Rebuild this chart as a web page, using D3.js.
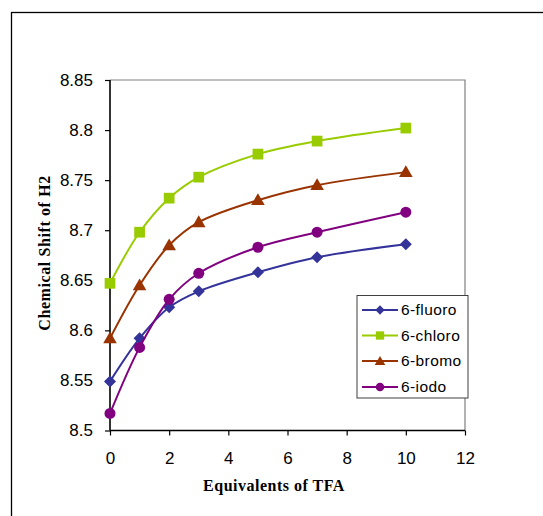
<!DOCTYPE html>
<html>
<head>
<meta charset="utf-8">
<script src="https://cdn.jsdelivr.net/npm/d3@7"></script>
<style>
  html, body { margin: 0; padding: 0; background: #fff; }
  svg { display: block; }
</style>
</head>
<body>
<svg id="chart" width="543" height="516"></svg>
<script>
// TFA titration: chemical shift of H2 for the 6-halo series
const equivalents = [0, 1, 2, 3, 5, 7, 10];
const seriesNames = ["6-fluoro", "6-chloro", "6-bromo", "6-iodo"];
const fluoro = [8.549, 8.592, 8.623, 8.639, 8.658, 8.673, 8.686];
const chloro = [8.647, 8.698, 8.732, 8.753, 8.776, 8.789, 8.802];
const bromo  = [8.592, 8.645, 8.685, 8.708, 8.730, 8.745, 8.758];
const iodo   = [8.517, 8.583, 8.631, 8.657, 8.683, 8.698, 8.718];
const xTicks = [0, 2, 4, 6, 8, 10, 12];
const yTicks = [8.5, 8.55, 8.6, 8.65, 8.7, 8.75, 8.8, 8.85];
const yTickLabels = ["8.5", "8.55", "8.6", "8.65", "8.7", "8.75", "8.8", "8.85"];

const colors = ["#333399", "#99CC00", "#993300", "#800080"];
// marker shapes: diamond is a square turned 45 degrees
const markers = ["diamond", "square", "triangle", "circle"];
const markerSizes = [72, 115, 80, 95];
const symbolTypes = { diamond: d3.symbolSquare, square: d3.symbolSquare, triangle: d3.symbolTriangle, circle: d3.symbolCircle };

const series = seriesNames.map((name, i) => ({
  name,
  color: colors[i],
  marker: markers[i],
  size: markerSizes[i],
  values: [fluoro, chloro, bromo, iodo][i].map((v, j) => ({ x: equivalents[j], y: v }))
}));

function markerTransform(s, cx, cy) {
  const dy = s.marker === "triangle" ? 1 : 0;
  const rot = s.marker === "diamond" ? " rotate(45)" : "";
  return `translate(${cx},${cy + dy})${rot}`;
}

const svg = d3.select("#chart");
const plot = { left: 110, top: 80, right: 465, bottom: 430.5 };

// Outer chart frame (right and bottom edges fall outside the view)
svg.append("rect")
  .attr("x", 11.5).attr("y", 12.5)
  .attr("width", 600).attr("height", 600)
  .attr("fill", "none").attr("stroke", "#000").attr("stroke-width", 1.3);

const x = d3.scaleLinear().domain([0, 12]).range([plot.left, plot.right]);
const y = d3.scaleLinear().domain([8.5, 8.85]).range([plot.bottom, plot.top]);

// Plot area border: grey top and right
svg.append("path")
  .attr("d", `M${plot.left},${plot.top}H${plot.right}V${plot.bottom}`)
  .attr("fill", "none").attr("stroke", "#808080").attr("stroke-width", 1.2);

// Axes
const xAxis = d3.axisBottom(x).tickValues(xTicks).tickSize(5).tickPadding(16).tickFormat(d3.format("d"));
const yAxis = d3.axisLeft(y).tickValues(yTicks).tickSize(5).tickPadding(12)
  .tickFormat((d, i) => yTickLabels[i]);

const gx = svg.append("g").attr("transform", `translate(0,${plot.bottom})`).call(xAxis);
const gy = svg.append("g").attr("transform", `translate(${plot.left},0)`).call(yAxis);

[gx, gy].forEach(g => {
  g.select(".domain").attr("stroke", "#000").attr("stroke-width", 1.6);
  g.selectAll(".tick line").attr("stroke", "#000").attr("stroke-width", 1.2);
  g.selectAll(".tick text")
    .attr("fill", "#000")
    .style("font-family", "'Liberation Sans', Arial, sans-serif")
    .style("font-size", "17px");
});
gx.select(".domain").attr("d", `M${plot.left},0H${plot.right}`);
gy.select(".domain").attr("d", `M0,${plot.bottom}V${plot.top}`);
gx.selectAll(".tick text").attr("dy", "0.71em");

// Axis titles
svg.append("text")
  .attr("x", 274).attr("y", 491)
  .attr("text-anchor", "middle")
  .style("font-family", "'Liberation Serif', 'Times New Roman', serif")
  .style("font-weight", "bold")
  .style("font-size", "16px")
  .style("letter-spacing", "0.5px")
  .text("Equivalents of TFA");

svg.append("text")
  .attr("transform", "translate(50,253) rotate(-90)")
  .attr("text-anchor", "middle")
  .style("font-family", "'Liberation Serif', 'Times New Roman', serif")
  .style("font-weight", "bold")
  .style("font-size", "16px")
  .style("letter-spacing", "0.6px")
  .text("Chemical Shift of H2");

// Smoothed series lines and markers
const line = d3.line()
  .x(d => x(d.x)).y(d => y(d.y))
  .curve(d3.curveCatmullRom.alpha(0.5));

const gSeries = svg.selectAll(".series").data(series).enter().append("g").attr("class", "series");
gSeries.append("path")
  .attr("d", d => line(d.values))
  .attr("fill", "none")
  .attr("stroke", d => d.color)
  .attr("stroke-width", 2);

gSeries.each(function (s) {
  d3.select(this).selectAll("path.pt").data(s.values).enter().append("path")
    .attr("class", "pt")
    .attr("transform", d => markerTransform(s, x(d.x), y(d.y)))
    .attr("d", d3.symbol().type(symbolTypes[s.marker]).size(s.size))
    .attr("fill", s.color);
});

// Legend
const legend = svg.append("g");
legend.append("rect")
  .attr("x", 357).attr("y", 295.5).attr("width", 111).attr("height", 102.5)
  .attr("fill", "#fff").attr("stroke", "#404040").attr("stroke-width", 1);

const rowY = [310, 335.5, 361, 387];
const items = legend.selectAll(".item").data(series).enter().append("g")
  .attr("transform", (d, i) => `translate(0,${rowY[i]})`);
items.append("line")
  .attr("x1", 362).attr("x2", 398).attr("y1", 0).attr("y2", 0)
  .attr("stroke", d => d.color).attr("stroke-width", 2);
items.append("path")
  .attr("transform", d => markerTransform(d, 380, 0))
  .attr("d", d => d3.symbol().type(symbolTypes[d.marker]).size(d.size * 0.6)())
  .attr("fill", d => d.color);
items.append("text")
  .attr("x", 401).attr("y", 0).attr("dy", "0.35em")
  .style("font-family", "'Liberation Sans', Arial, sans-serif")
  .style("font-size", "15.5px")
  .style("letter-spacing", "0.4px")
  .text(d => d.name);
</script>
</body>
</html>
